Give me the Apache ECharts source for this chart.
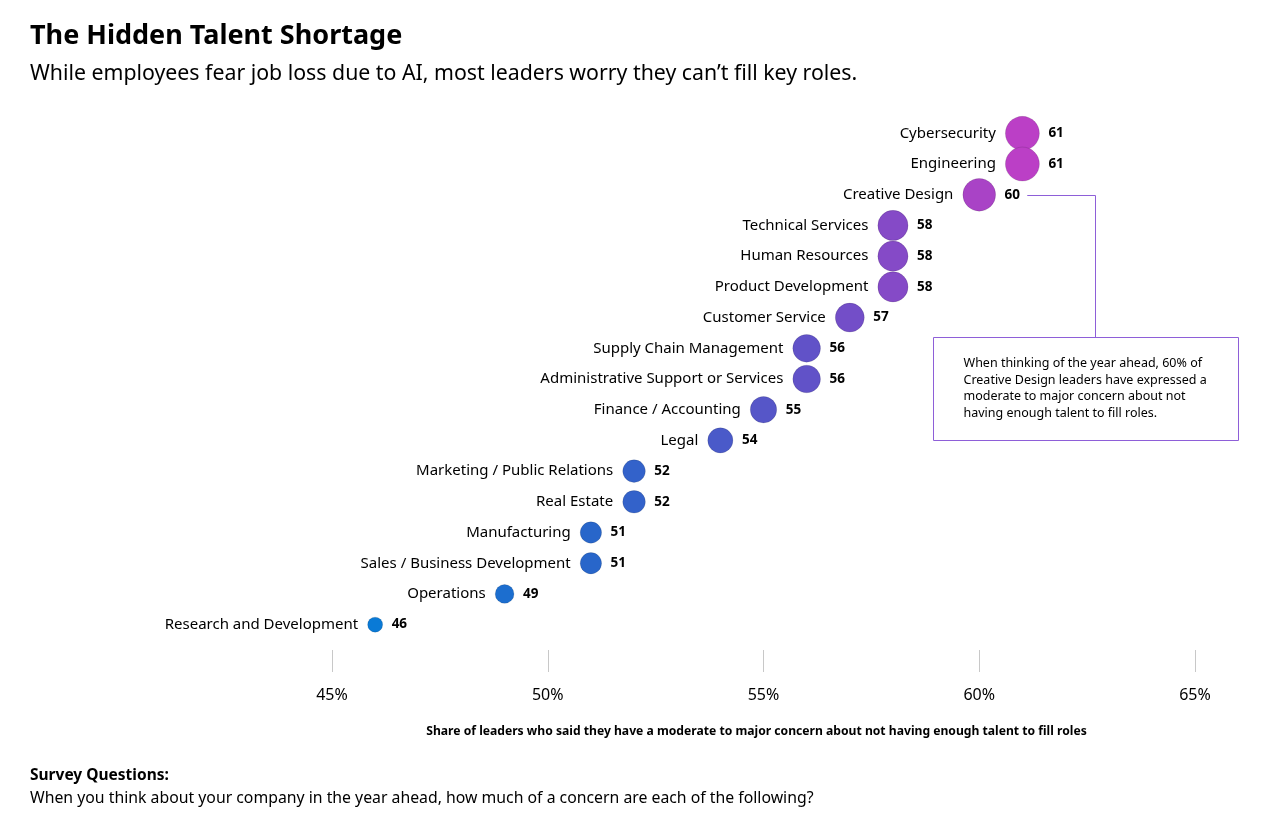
<!DOCTYPE html>
<html>
<head>
<meta charset="utf-8">
<script src="https://cdn.jsdelivr.net/npm/echarts@6/dist/echarts.min.js"></script>
<style>html,body{margin:0;padding:0;background:#fff;}#c{width:1280px;height:829px;}</style>
</head>
<body>
<div id="c"></div>
<script>
const categories = ['Cybersecurity','Engineering','Creative Design','Technical Services','Human Resources','Product Development','Customer Service','Supply Chain Management','Administrative Support or Services','Finance / Accounting','Legal','Marketing / Public Relations','Real Estate','Manufacturing','Sales / Business Development','Operations','Research and Development'];
const values = [61,61,60,58,58,58,57,56,56,55,54,52,52,51,51,49,46];
const xTicks = [45,50,55,60,65];
const titleText = 'The Hidden Talent Shortage';
const subtitleText = 'While employees fear job loss due to AI, most leaders worry they can\u2019t fill key roles.';
const axisTitle = 'Share of leaders who said they have a moderate to major concern about not having enough talent to fill roles';
const noteText = 'When thinking of the year ahead, 60% of\nCreative Design leaders have expressed a\nmoderate to major concern about not\nhaving enough talent to fill roles.';
const footHead = 'Survey Questions:';
const footBody = 'When you think about your company in the year ahead, how much of a concern are each of the following?';

const FONT = '"Noto Sans", "Open Sans", sans-serif';
const data = values.map((v, i) => [v, categories[i]]);
const vMin = Math.min(...values), vMax = Math.max(...values);
const sizeOf = v => 15 + (v - vMin) * (34 - 15) / (vMax - vMin);

const chart = echarts.init(document.getElementById('c'), null, {renderer: 'canvas'});
const option = {
  animation: false,
  backgroundColor: '#fff',
  textStyle: {fontFamily: FONT},
  title: [
    {text: titleText, left: 30, top: 23, padding: 0, textStyle: {fontFamily: FONT, fontSize: 27, fontWeight: 'bold', color: '#000'}},
    {text: subtitleText, left: 30, top: 63, padding: 0, textStyle: {fontFamily: FONT, fontSize: 21.3, fontWeight: 'normal', color: '#000'}},
    {text: footHead, left: 30, top: 768, padding: 0, textStyle: {fontFamily: FONT, fontSize: 15.5, fontWeight: 'bold', color: '#000'}},
    {text: footBody, left: 30, top: 790, padding: 0, textStyle: {fontFamily: FONT, fontSize: 15.8, fontWeight: 'normal', color: '#000'}}
  ],
  grid: {left: 332, right: 85, top: 118, bottom: 189},
  xAxis: {
    type: 'value', min: xTicks[0], max: xTicks[xTicks.length - 1], interval: 5,
    offset: 10,
    axisLine: {show: false},
    axisTick: {show: true, length: 22, lineStyle: {color: '#c8c8c8', width: 1}},
    splitLine: {show: false},
    axisLabel: {formatter: '{value}%', fontSize: 16, color: '#000', margin: 37, fontFamily: FONT},
    name: axisTitle, nameLocation: 'middle', nameGap: 76,
    nameTextStyle: {fontSize: 12.15, fontWeight: 'bold', color: '#000', fontFamily: FONT, padding: [0, 14, 0, 0]}
  },
  yAxis: {
    type: 'category', data: categories, inverse: true,
    axisLine: {show: false}, axisTick: {show: false}, axisLabel: {show: false}, splitLine: {show: false}
  },
  visualMap: {
    show: false, type: 'continuous', dimension: 0, min: vMin, max: vMax, seriesIndex: 0,
    inRange: {color: ['#0a7ad6', '#2866ca', '#6152c8', '#bb3fc6']}
  },
  series: [
    {
      type: 'scatter', data: data, symbol: 'circle', symbolSize: v => sizeOf(v[0]),
      itemStyle: {borderColor: 'rgba(0,0,0,0.12)', borderWidth: 1, opacity: 1},
      label: {show: true, position: 'left', distance: 9, formatter: p => p.value[1], fontSize: 15, color: '#000', fontFamily: FONT}
    },
    {
      type: 'scatter', data: data, symbol: 'circle', silent: true, symbolSize: v => sizeOf(v[0]),
      itemStyle: {color: 'rgba(255,255,255,0)', opacity: 1},
      label: {show: true, position: 'right', distance: 9, formatter: p => String(p.value[0]), fontSize: 13.5, fontWeight: 'bold', color: '#000', opacity: 1, fontFamily: FONT}
    }
  ]
};
chart.setOption(option);

const pt = chart.convertToPixel({seriesIndex: 0}, [values[2], categories[2]]);
const boxX = 933.5, boxY = 337.5, boxW = 305, boxH = 103;
const lineX = 1095.5;
chart.setOption({
  graphic: [
    {type: 'polyline', shape: {points: [[pt[0] + 48, Math.round(pt[1]) + 0.5], [lineX, Math.round(pt[1]) + 0.5], [lineX, boxY]]}, style: {stroke: '#8e5fd8', lineWidth: 1, fill: null}},
    {type: 'rect', shape: {x: boxX, y: boxY, width: boxW, height: boxH}, style: {stroke: '#8e5fd8', lineWidth: 1, fill: '#fff'}},
    {type: 'text', x: boxX + 30, y: boxY + 18, style: {text: noteText, font: '12.5px ' + FONT, fill: '#000', lineHeight: 16.5}}
  ]
});
</script>
</body>
</html>
